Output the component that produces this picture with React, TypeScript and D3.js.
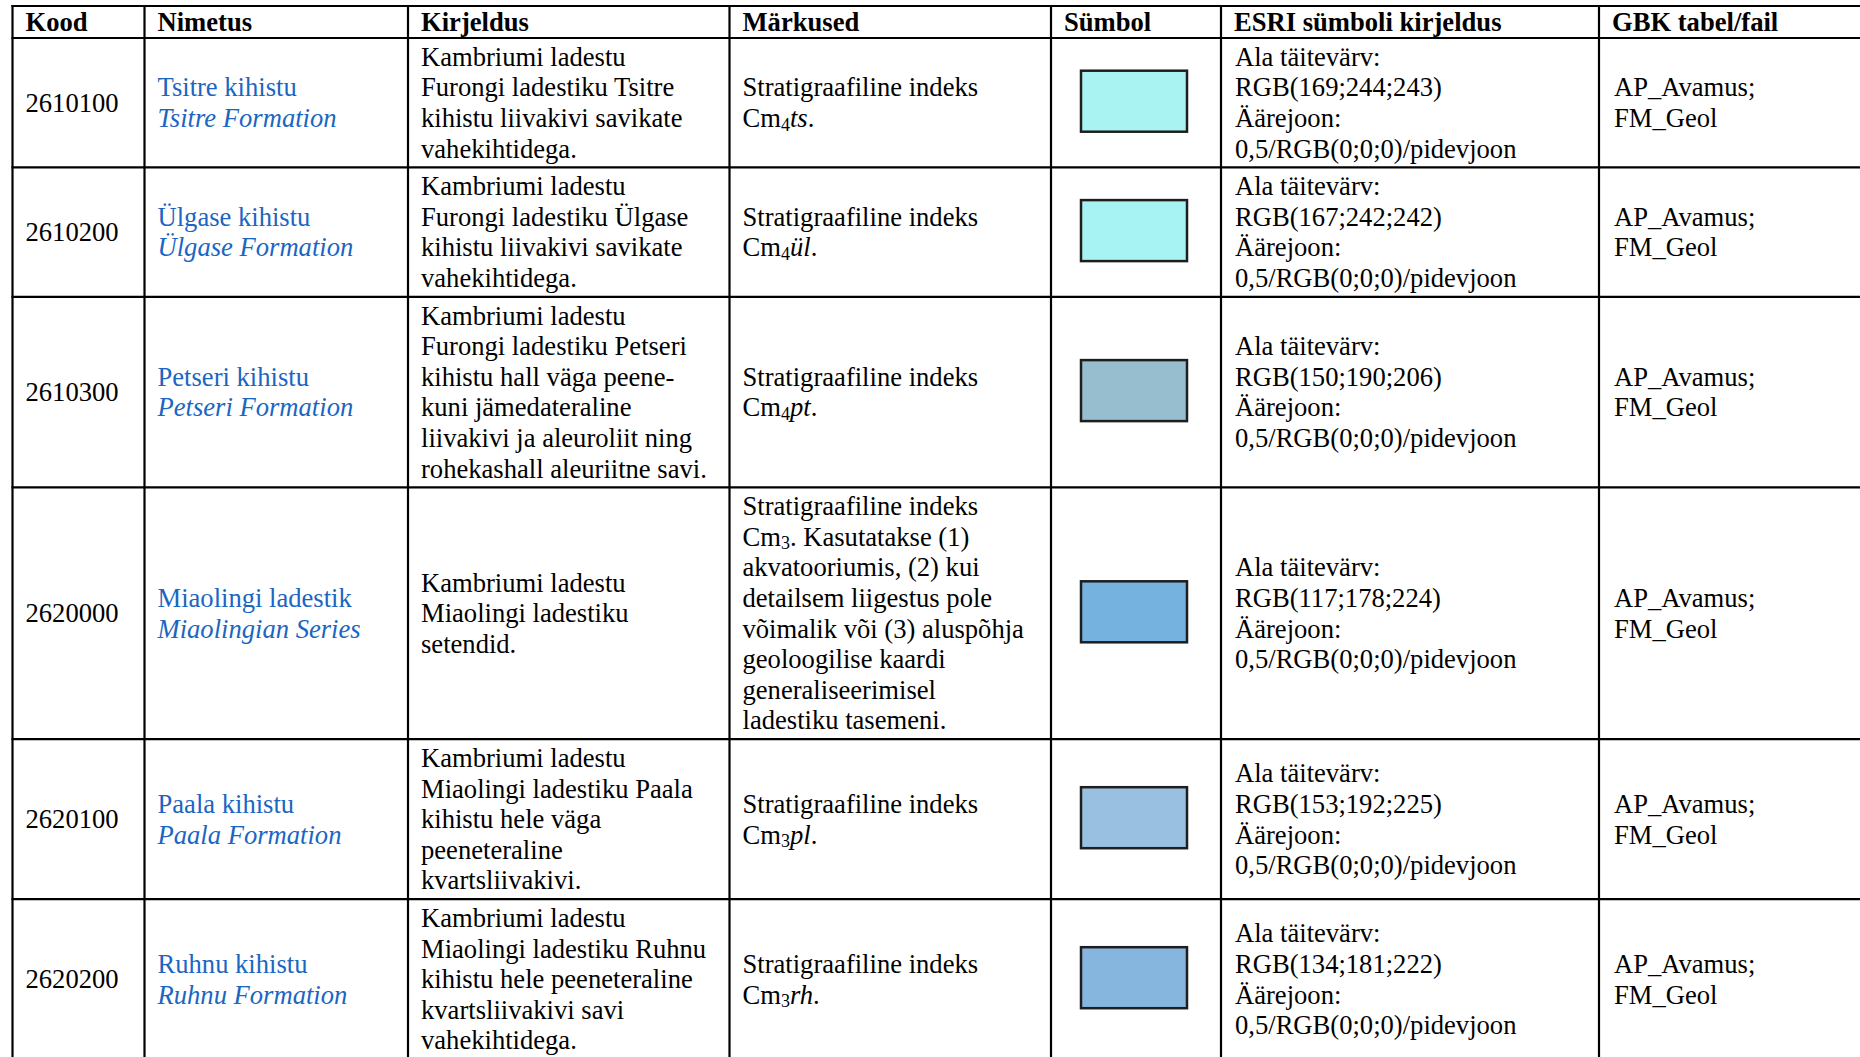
import React from 'react';
import * as d3 from 'd3';

const headers = ['Kood', 'Nimetus', 'Kirjeldus', 'Märkused', 'Sümbol', 'ESRI sümboli kirjeldus', 'GBK tabel/fail'];
const codes = ['2610100', '2610200', '2610300', '2620000', '2620100', '2620200'];
const namesEt = ['Tsitre kihistu', 'Ülgase kihistu', 'Petseri kihistu', 'Miaolingi ladestik', 'Paala kihistu', 'Ruhnu kihistu'];
const namesEn = ['Tsitre Formation', 'Ülgase Formation', 'Petseri Formation', 'Miaolingian Series', 'Paala Formation', 'Ruhnu Formation'];
const descriptions = [
  ['Kambriumi ladestu', 'Furongi ladestiku Tsitre', 'kihistu liivakivi savikate', 'vahekihtidega.'],
  ['Kambriumi ladestu', 'Furongi ladestiku Ülgase', 'kihistu liivakivi savikate', 'vahekihtidega.'],
  ['Kambriumi ladestu', 'Furongi ladestiku Petseri', 'kihistu hall väga peene-', 'kuni jämedateraline', 'liivakivi ja aleuroliit ning', 'rohekashall aleuriitne savi.'],
  ['Kambriumi ladestu', 'Miaolingi ladestiku', 'setendid.'],
  ['Kambriumi ladestu', 'Miaolingi ladestiku Paala', 'kihistu hele väga', 'peeneteraline', 'kvartsliivakivi.'],
  ['Kambriumi ladestu', 'Miaolingi ladestiku Ruhnu', 'kihistu hele peeneteraline', 'kvartsliivakivi savi', 'vahekihtidega.'],
];
const noteHead = 'Stratigraafiline indeks';
const indexSub = ['4', '4', '4', '3', '3', '3'];
const indexItalic = ['ts', 'ül', 'pt', '', 'pl', 'rh'];
const indexTail = ['', '', '', ' Kasutatakse (1)', '', ''];
const noteExtra = [
  [],
  [],
  [],
  ['akvatooriumis, (2) kui', 'detailsem liigestus pole', 'võimalik või (3) aluspõhja', 'geoloogilise kaardi', 'generaliseerimisel', 'ladestiku tasemeni.'],
  [],
  [],
];
const fillRGB = [
  [169, 244, 243],
  [167, 242, 242],
  [150, 190, 206],
  [117, 178, 224],
  [153, 192, 225],
  [134, 181, 222],
];
const gbkLines = ['AP_Avamus;', 'FM_Geol'];

const W = 1860;
const H = 1057;
const FONT = '"Liberation Serif", "Times New Roman", serif';
const FS = 26.6;
const LH = 30.6;
const PAD = 7;
const BASE = 24.3;
const colEdges = [12.5, 144.5, 408, 729.5, 1051, 1221, 1599, 1875];
const tableTop = 6;
const headerH = 32;
const textPad = 13;
const BLUE = '#1a66c2';

export default function App() {
  const esriLines = (i: number) => ['Ala täitevärv:', `RGB(${fillRGB[i].join(';')})`, 'Äärejoon:', '0,5/RGB(0;0;0)/pidevjoon'];
  const lineCounts = codes.map((_, i) =>
    Math.max(1, 2, descriptions[i].length, 2 + noteExtra[i].length, 4, gbkLines.length)
  );
  const heights = lineCounts.map((n) => n * LH + PAD);
  const cum = Array.from(d3.cumsum(heights));
  const rowTops = [tableTop + headerH, ...cum.map((c) => tableTop + headerH + c)];
  const y = d3.scaleOrdinal<number, number>().domain(d3.range(codes.length)).range(rowTops.slice(0, codes.length));
  const x = d3.scaleOrdinal<number, number>().domain(d3.range(colEdges.length)).range(colEdges);

  const block = (lines: React.ReactNode[], cx: number, center: number, key: string, props: any = {}) => {
    const top = center - (lines.length * LH) / 2;
    return lines.map((ln, k) => (
      <text key={key + k} x={cx} y={top + k * LH + BASE} fontSize={FS} fontFamily={FONT} fill="#000" {...props}>
        {ln}
      </text>
    ));
  };

  const tableBottom = rowTops[codes.length];
  const headerCenter = tableTop + headerH / 2;

  return (
    <svg width={W} height={H} style={{ position: 'absolute', left: 0, top: 0, display: 'block', background: '#fff' }}>
      <rect x={0} y={0} width={W} height={H} fill="#fff" />
      {headers.map((h, c) =>
        block([h], x(c) + textPad, headerCenter, 'h' + c, { fontWeight: 'bold' })
      )}
      {codes.map((code, i) => {
        const top = y(i);
        const center = top + heights[i] / 2;
        const rgb = fillRGB[i];
        const symCx = (x(4) + x(5)) / 2;
        const noteLine2 = (
          <>
            <tspan>Cm</tspan>
            <tspan dy={3.5} fontSize={18}>{indexSub[i]}</tspan>
            <tspan dy={-3.5}>
              {indexItalic[i] ? <tspan fontStyle="italic">{indexItalic[i]}</tspan> : null}
              {'.' + indexTail[i]}
            </tspan>
          </>
        );
        return (
          <g key={code}>
            {block([code], x(0) + textPad, center, 'c' + i)}
            {block([namesEt[i], <tspan key="en" fontStyle="italic">{namesEn[i]}</tspan>], x(1) + textPad, center, 'n' + i, { fill: BLUE })}
            {block(descriptions[i], x(2) + textPad, center, 'd' + i)}
            {block([noteHead, noteLine2, ...noteExtra[i]], x(3) + textPad, center, 'm' + i)}
            <rect
              x={symCx - 55}
              y={center - 32}
              width={106}
              height={61}
              fill={d3.rgb(rgb[0], rgb[1], rgb[2]).toString()}
              stroke="#1e1e1e"
              strokeWidth={2.5}
            />
            {block(esriLines(i), x(5) + textPad + 1, center, 'e' + i)}
            {block(gbkLines, x(6) + textPad + 2, center, 'g' + i)}
          </g>
        );
      })}
      {[tableTop, ...rowTops].map((yy, k) => (
        <line key={'hl' + k} x1={colEdges[0] - 1} x2={W + 20} y1={yy} y2={yy} stroke="#000" strokeWidth={2.2} />
      ))}
      {colEdges.map((xx, k) => (
        <line key={'vl' + k} x1={xx} x2={xx} y1={tableTop - 1} y2={tableBottom + 1} stroke="#000" strokeWidth={2.2} />
      ))}
    </svg>
  );
}
